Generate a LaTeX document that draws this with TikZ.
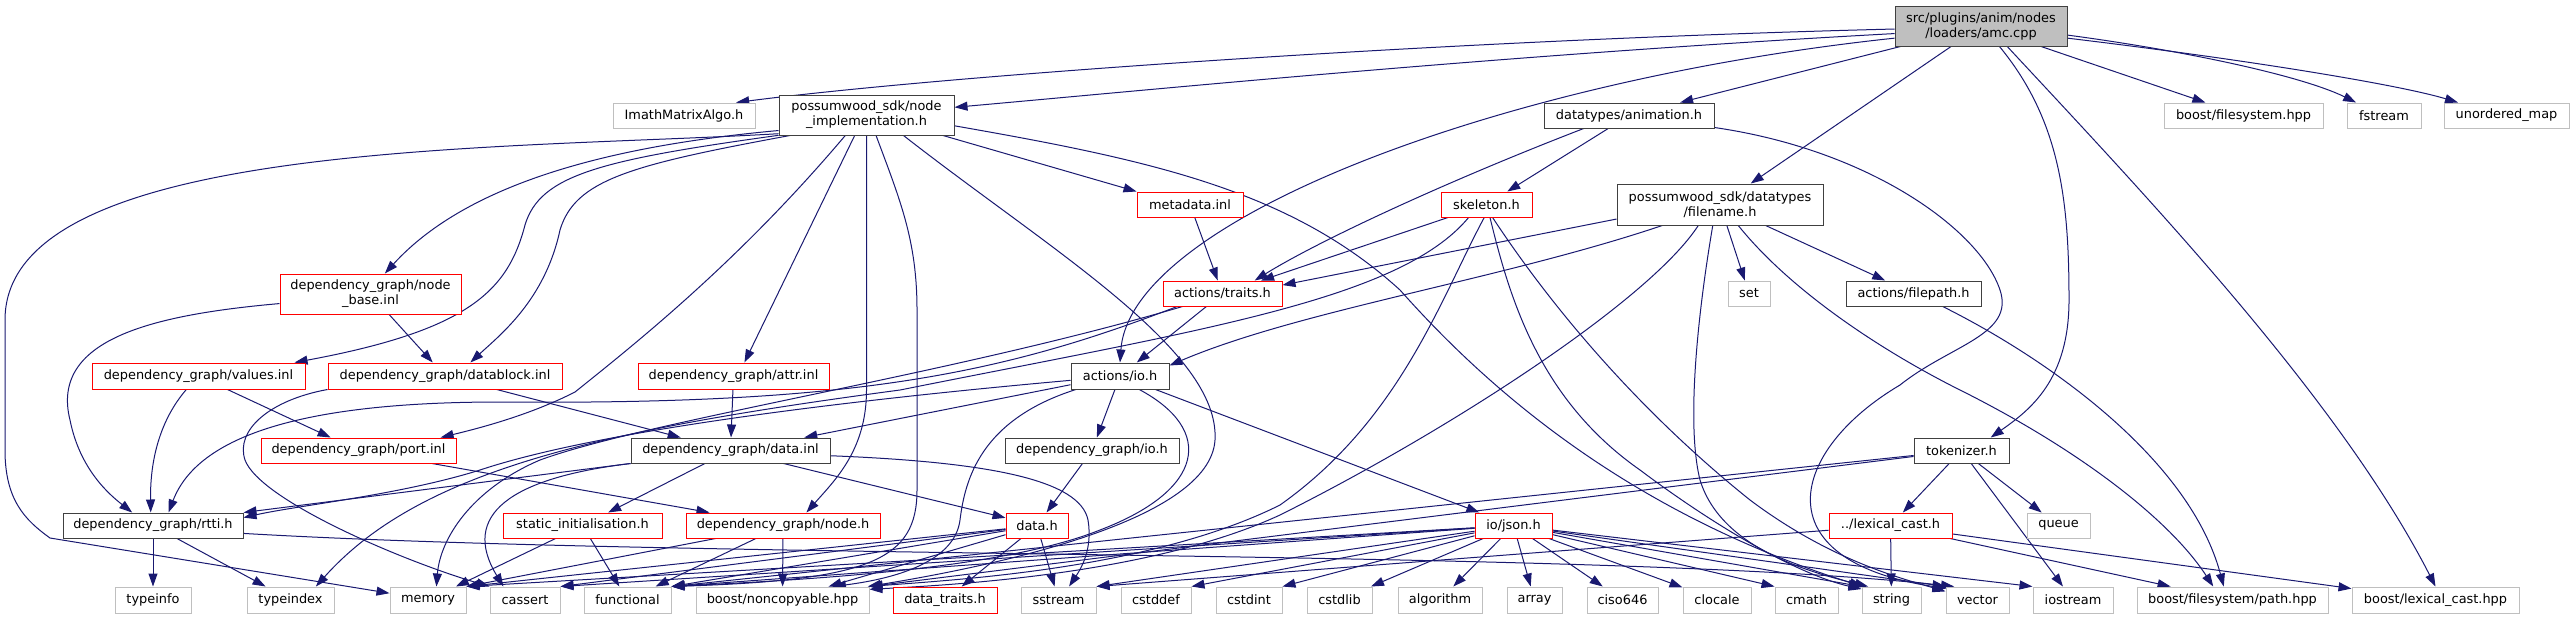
\documentclass[tikz,border=0pt]{standalone}
\usepackage{fontspec}
\setmainfont{DejaVu Sans}
\usetikzlibrary{arrows.meta,backgrounds}
\definecolor{edgec}{RGB}{25,25,112}
\definecolor{grayb}{RGB}{191,191,191}
\definecolor{darkb}{RGB}{64,64,64}
\definecolor{redb}{RGB}{255,0,0}
\begin{document}
\begin{tikzpicture}[x=1pt,y=-1pt,
  bx/.style={draw, fill=white, line width=1pt, inner sep=0pt, align=center, text=black, font=\fontsize{12.9}{15}\selectfont},
  nb/.style={bx, draw=darkb},
  rb/.style={bx, draw=redb},
  gb/.style={bx, draw=grayb},
  rootb/.style={bx, draw=darkb, fill=grayb},
  edg/.style={draw=edgec, line width=1pt, -{Triangle[length=13pt,width=9pt]}}]
\useasboundingbox (0,0) rectangle (2574,619);
% row 0/1
\node[rootb, minimum width=172pt, minimum height=40pt] (root) at (1981,26) {src/plugins/anim/nodes\\/loaders/amc.cpp};
\node[gb, minimum width=142pt, minimum height=25pt] (imath) at (684,115.5) {ImathMatrixAlgo.h};
\node[nb, minimum width=175pt, minimum height=40pt] (nodeimpl) at (866.5,115) {possumwood\_sdk/node\\\_implementation.h};
\node[nb, minimum width=170pt, minimum height=25pt] (anim) at (1629,115.5) {datatypes/animation.h};
\node[gb, minimum width=159pt, minimum height=25pt] (fsys) at (2243.5,115.5) {boost/filesystem.hpp};
\node[gb, minimum width=74pt, minimum height=25pt] (fstream) at (2384,115.5) {fstream};
\node[gb, minimum width=125pt, minimum height=25pt] (umap) at (2506.5,115.5) {unordered\_map};
% row 2/3
\node[rb, minimum width=181pt, minimum height=40pt] (nodebase) at (370.5,294) {dependency\_graph/node\\\_base.inl};
\node[rb, minimum width=106pt, minimum height=25pt] (metadata) at (1190,204.5) {metadata.inl};
\node[rb, minimum width=91pt, minimum height=25pt] (skeleton) at (1486.5,204.5) {skeleton.h};
\node[nb, minimum width=206pt, minimum height=41pt] (filename) at (1720,204.5) {possumwood\_sdk/datatypes\\/filename.h};
\node[rb, minimum width=119pt, minimum height=25pt] (traits) at (1222.5,293.5) {actions/traits.h};
\node[gb, minimum width=42pt, minimum height=25pt] (set) at (1749,293.5) {set};
\node[nb, minimum width=135pt, minimum height=25pt] (filepath) at (1913.5,293.5) {actions/filepath.h};
% row 4
\node[rb, minimum width=213pt, minimum height=26pt] (values) at (198.5,376) {dependency\_graph/values.inl};
\node[rb, minimum width=234pt, minimum height=26pt] (datablock) at (445,376) {dependency\_graph/datablock.inl};
\node[rb, minimum width=191pt, minimum height=26pt] (attr) at (733.5,376) {dependency\_graph/attr.inl};
\node[nb, minimum width=98pt, minimum height=26pt] (io) at (1120,376) {actions/io.h};
% row 5
\node[rb, minimum width=195pt, minimum height=25pt] (port) at (358.5,450.5) {dependency\_graph/port.inl};
\node[nb, minimum width=199pt, minimum height=25pt] (datainl) at (730.5,450.5) {dependency\_graph/data.inl};
\node[nb, minimum width=174pt, minimum height=25pt] (dgio) at (1092,450.5) {dependency\_graph/io.h};
\node[nb, minimum width=95pt, minimum height=25pt] (tokenizer) at (1961.5,450.5) {tokenizer.h};
% row 6
\node[nb, minimum width=180pt, minimum height=25pt] (rtti) at (153,525.5) {dependency\_graph/rtti.h};
\node[rb, minimum width=159pt, minimum height=25pt] (staticinit) at (582.5,525.5) {static\_initialisation.h};
\node[rb, minimum width=194pt, minimum height=25pt] (nodeh) at (783,525.5) {dependency\_graph/node.h};
\node[rb, minimum width=62pt, minimum height=25pt] (datah) at (1037,525.5) {data.h};
\node[rb, minimum width=77pt, minimum height=25pt] (json) at (1513.5,525.5) {io/json.h};
\node[rb, minimum width=123pt, minimum height=25pt] (lexcast) at (1890.5,525.5) {../lexical\_cast.h};
\node[gb, minimum width=63pt, minimum height=25pt] (queue) at (2058.5,525.5) {queue};
% bottom row
\node[gb, minimum width=76pt, minimum height=26pt] (typeinfo) at (153,600) {typeinfo};
\node[gb, minimum width=87pt, minimum height=26pt] (typeindex) at (290.5,600) {typeindex};
\node[gb, minimum width=76pt, minimum height=26pt] (memory) at (428,600) {memory};
\node[gb, minimum width=70pt, minimum height=26pt] (cassert) at (525,600) {cassert};
\node[gb, minimum width=87pt, minimum height=26pt] (functional) at (627.5,600) {functional};
\node[gb, minimum width=173pt, minimum height=26pt] (noncopyable) at (782.5,600) {boost/noncopyable.hpp};
\node[rb, minimum width=104pt, minimum height=26pt] (datatraits) at (945,600) {data\_traits.h};
\node[gb, minimum width=75pt, minimum height=26pt] (sstream) at (1058.5,600) {sstream};
\node[gb, minimum width=70pt, minimum height=26pt] (cstddef) at (1156,600) {cstddef};
\node[gb, minimum width=66pt, minimum height=26pt] (cstdint) at (1249,600) {cstdint};
\node[gb, minimum width=65pt, minimum height=26pt] (cstdlib) at (1339.5,600) {cstdlib};
\node[gb, minimum width=84pt, minimum height=26pt] (algorithm) at (1440,600) {algorithm};
\node[gb, minimum width=55pt, minimum height=26pt] (array) at (1534.5,600) {array};
\node[gb, minimum width=71pt, minimum height=26pt] (ciso646) at (1622.5,600) {ciso646};
\node[gb, minimum width=68pt, minimum height=26pt] (clocale) at (1717,600) {clocale};
\node[gb, minimum width=63pt, minimum height=26pt] (cmath) at (1806.5,600) {cmath};
\node[gb, minimum width=59pt, minimum height=26pt] (string) at (1891.5,600) {string};
\node[gb, minimum width=63pt, minimum height=26pt] (vector) at (1977.5,600) {vector};
\node[gb, minimum width=80pt, minimum height=26pt] (iostream) at (2073,600) {iostream};
\node[gb, minimum width=191pt, minimum height=26pt] (pathhpp) at (2232.5,600) {boost/filesystem/path.hpp};
\node[gb, minimum width=167pt, minimum height=26pt] (lexhpp) at (2435.5,600) {boost/lexical\_cast.hpp};

\begin{scope}[on background layer]
% root
\draw[edg] (root.182) .. controls (1450,40) and (950,75) .. (imath.14);
\draw[edg] (root.185) .. controls (1500,55) and (1150,90) .. (nodeimpl.5);
\draw[edg] (root.188) .. controls (1500,80) and (1130,220) .. (io.north);
\draw[edg] (root) -- (anim);
\draw[edg] (root) -- (filename);
\draw[edg] (root) -- (fsys);
\draw[edg] (root.354) .. controls (2180,50) and (2300,75) .. (fstream.155);
\draw[edg] (root.352) .. controls (2250,60) and (2400,85) .. (umap.165);
\draw[edg] (root.312) .. controls (2060,120) and (2069,200) .. (2069,300) .. controls (2069,380) and (2030,410) .. (tokenizer.24);
\draw[edg] (root.322) .. controls (2150,200) and (2340,400) .. (lexhpp.north);
% node_implementation
\draw[edg] (nodeimpl.192) .. controls (500,150) and (5,140) .. (5,320) -- (5,450) .. controls (5,500) and (25,520) .. (50,538) -- (memory.170);
\draw[edg] (nodeimpl.190) .. controls (620,145) and (470,180) .. (nodebase.55);
\draw[edg] (nodeimpl.193) .. controls (600,160) and (540,175) .. (525,225) .. controls (508,290) and (470,330) .. (values.8);
\draw[edg] (nodeimpl.195) .. controls (630,165) and (575,180) .. (560,230) .. controls (545,300) and (500,335) .. (datablock.28);
\draw[edg] (nodeimpl.224) .. controls (740,260) and (640,340) .. (575,392) .. controls (530,415) and (480,428) .. (port.9);
\draw[edg] (nodeimpl.240) -- (attr.51);
\draw[edg] (nodeimpl.south) -- (866.5,390) .. controls (866.5,450) and (835,480) .. (nodeh.29);
\draw[edg] (nodeimpl.295) .. controls (900,200) and (917,240) .. (917,310) -- (917,490) .. controls (917,560) and (870,580) .. (functional.north east);
\draw[edg] (nodeimpl.331) .. controls (1050,250) and (1220,350) .. (1215,440) .. controls (1210,520) and (1000,565) .. (noncopyable.9);
\draw[edg] (nodeimpl.345) -- (metadata.north west);
\draw[edg] (nodeimpl.353) .. controls (1150,160) and (1290,190) .. (1400,290) .. controls (1480,380) and (1620,510) .. (string.155);
% animation
\draw[edg] (anim) -- (skeleton);
\draw[edg] (anim.196) .. controls (1450,180) and (1320,240) .. (traits.22);
\draw[edg] (anim.352) .. controls (1870,150) and (1980,230) .. (2000,290) .. controls (2015,335) and (1950,345) .. (1900,385) .. controls (1790,450) and (1760,560) .. (vector.160);
% metadata, skeleton
\draw[edg] (metadata) -- (traits);
\draw[edg] (skeleton) -- (traits);
\draw[edg] (skeleton.216) .. controls (1400,300) and (1200,330) .. (900,390) .. controls (600,430) and (420,470) .. (typeindex.28);
\draw[edg] (skeleton.260) .. controls (1440,300) and (1400,420) .. (1280,505) .. controls (1150,570) and (950,580) .. (noncopyable.north east);
\draw[edg] (skeleton.285) .. controls (1510,300) and (1540,400) .. (1640,470) .. controls (1720,530) and (1800,575) .. (string.160);
\draw[edg] (skeleton.295) .. controls (1560,320) and (1650,420) .. (1750,500) .. controls (1830,560) and (1900,578) .. (vector.165);
% filename
\draw[edg] (filename.188) -- (traits.8);
\draw[edg] (filename.200) .. controls (1500,280) and (1300,310) .. (io.12);
\draw[edg] (filename.224) .. controls (1650,300) and (1450,430) .. (1280,515) .. controls (1150,575) and (950,585) .. (noncopyable.7);
\draw[edg] (filename.251) .. controls (1700,300) and (1685,420) .. (1700,480) .. controls (1720,545) and (1800,570) .. (string.150);
\draw[edg] (filename) -- (set);
\draw[edg] (filename.311) .. controls (1790,290) and (1880,350) .. (1960,390) .. controls (2080,450) and (2170,520) .. (pathhpp.145);
\draw[edg] (filename) -- (filepath);
\draw[edg] (filepath.336) .. controls (2050,360) and (2190,460) .. (pathhpp.123);
% traits
\draw[edg] (traits) -- (io);
\draw[edg] (traits.196) .. controls (1000,375) and (850,405) .. (500,402) .. controls (320,402) and (200,430) .. (rtti.40);
\draw[edg] (traits.198) .. controls (950,375) and (650,420) .. (540,460) .. controls (470,490) and (440,540) .. (memory.58);
% io
\draw[edg] (io.190) -- (datainl.10);
\draw[edg] (io) -- (dgio);
\draw[edg] (io) -- (json);
\draw[edg] (io.185) .. controls (850,400) and (600,430) .. (480,470) .. controls (400,495) and (300,505) .. (rtti.5);
\draw[edg] (io.197) .. controls (980,420) and (965,480) .. (960,520) .. controls (955,560) and (900,578) .. (noncopyable.15);
\draw[edg] (io.325) .. controls (1215,430) and (1205,490) .. (1100,530) .. controls (1000,570) and (800,580) .. (functional.north east);
% data.inl
\draw[edg] (datainl.south west) -- (rtti.north east);
\draw[edg] (datainl) -- (staticinit);
\draw[edg] (datainl) -- (datah);
\draw[edg] (datainl.south west) .. controls (510,478) and (460,515) .. (cassert.148);
\draw[edg] (datainl.357) .. controls (990,462) and (1080,480) .. (1088,520) .. controls (1093,550) and (1080,570) .. (sstream.52);
% attr, datablock
\draw[edg] (attr) -- (datainl);
\draw[edg] (datablock) -- (datainl);
\draw[edg] (datablock.south west) .. controls (270,400) and (235,430) .. (245,460) .. controls (260,500) and (400,560) .. (cassert.north west);
% node_base, values, port
\draw[edg] (nodebase.186) .. controls (150,315) and (50,340) .. (70,420) .. controls (80,470) and (110,495) .. (rtti.148);
\draw[edg] (nodebase) -- (datablock);
\draw[edg] (values.228) .. controls (160,420) and (150,460) .. (rtti.100);
\draw[edg] (values) -- (port);
\draw[edg] (port) -- (nodeh);
% static_initialisation, node.h, io.h (dg)
\draw[edg] (staticinit) -- (memory);
\draw[edg] (staticinit) -- (functional);
\draw[edg] (nodeh) -- (memory.north east);
\draw[edg] (nodeh) -- (functional);
\draw[edg] (nodeh) -- (noncopyable);
\draw[edg] (dgio) -- (datah);
% data.h
\draw[edg] (datah) -- (memory.north east);
\draw[edg] (datah) -- (cassert.north east);
\draw[edg] (datah) -- (functional.north east);
\draw[edg] (datah) -- (noncopyable);
\draw[edg] (datah) -- (datatraits);
\draw[edg] (datah) -- (sstream);
% io/json.h
\draw[edg] (json) -- (memory.north east);
\draw[edg] (json) -- (cassert.north east);
\draw[edg] (json) -- (functional.north east);
\draw[edg] (json) -- (sstream.north east);
\draw[edg] (json) -- (cstddef.north east);
\draw[edg] (json) -- (cstdint.north east);
\draw[edg] (json) -- (cstdlib);
\draw[edg] (json) -- (algorithm);
\draw[edg] (json) -- (array);
\draw[edg] (json) -- (ciso646);
\draw[edg] (json) -- (clocale);
\draw[edg] (json) -- (cmath.north west);
\draw[edg] (json) -- (string.north west);
\draw[edg] (json) -- (vector.north west);
\draw[edg] (json) -- (iostream.north west);
% tokenizer
\draw[edg] (tokenizer) -- (lexcast);
\draw[edg] (tokenizer) -- (iostream);
\draw[edg] (tokenizer) -- (queue);
\draw[edg] (tokenizer) -- (noncopyable.north east);
\draw[edg] (tokenizer) -- (functional.north east);
% lexical_cast.h
\draw[edg] (lexcast) -- (string);
\draw[edg] (lexcast) -- (pathhpp);
\draw[edg] (lexcast) -- (lexhpp);
\draw[edg] (lexcast) -- (sstream.north east);
% rtti
\draw[edg] (rtti) -- (typeinfo);
\draw[edg] (rtti) -- (typeindex);
\draw[edg] (rtti.355) .. controls (700,560) and (1600,548) .. (vector.150);
\end{scope}
\end{tikzpicture}
\end{document}
